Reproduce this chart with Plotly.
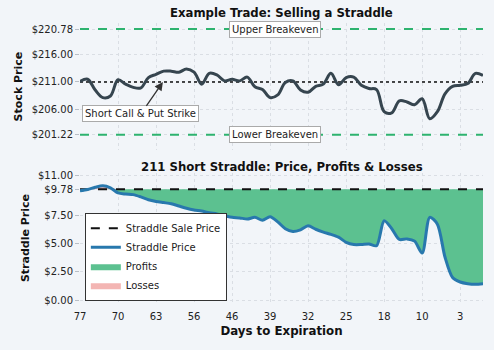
import plotly.graph_objects as go

days_idx = list(range(54))
tick_idx = [0, 5, 10, 15, 20, 25, 30, 35, 40, 45, 50]
tick_days = ["77", "70", "63", "56", "46", "39", "32", "25", "18", "10", "3"]

stock_price = [211.1, 211.5, 209.5, 208.1, 208.4, 211.4, 210.6, 210.0, 209.9, 211.8,
               212.4, 213.0, 213.0, 212.8, 213.4, 212.8, 210.6, 212.6, 212.3, 211.2,
               211.5, 211.2, 211.9, 210.1, 209.6, 208.1, 208.6, 210.9, 211.2, 209.5,
               209.1, 210.2, 210.6, 212.6, 210.5, 211.8, 211.9, 210.4, 209.8, 209.6,
               205.5, 205.3, 207.5, 207.3, 206.8, 207.9, 204.2, 205.5, 208.8, 210.2,
               210.4, 210.7, 212.6, 212.2]

straddle_price = [9.63, 9.75, 9.95, 10.08, 9.9, 9.45, 9.35, 9.3, 9.1, 8.85,
                  8.7, 8.6, 8.5, 8.3, 8.1, 7.95, 7.85, 7.7, 7.6, 7.45,
                  7.3, 7.25, 7.15, 7.3, 7.05, 7.35, 6.9, 6.3, 6.05, 6.2,
                  6.55, 6.25, 6.0, 5.8, 5.55, 5.1, 4.9, 4.9, 4.95, 4.8,
                  7.0, 6.3, 5.35, 5.4, 5.2, 4.15, 7.3, 6.7, 3.8, 2.0,
                  1.6, 1.45, 1.4, 1.45]

strike = 211.0
sale_price = 9.78
upper_be = 220.78
lower_be = 201.22

stock_ticks = [220.78, 216.0, 211.0, 206.0, 201.22]
straddle_ticks = [11.0, 9.78, 7.5, 5.0, 2.5, 0.0]

BG = "#f2f5f9"
FONT = "DejaVu Sans"
GRID = "#dadee4"

fig = go.Figure()

# ---- top panel ----
fig.add_trace(go.Scatter(x=[days_idx[0], days_idx[-1]], y=[upper_be, upper_be], mode="lines",
                         line=dict(color="#2eb36f", width=2, dash="dash"), showlegend=False,
                         xaxis="x", yaxis="y", hoverinfo="skip"))
fig.add_trace(go.Scatter(x=[days_idx[0], days_idx[-1]], y=[lower_be, lower_be], mode="lines",
                         line=dict(color="#2eb36f", width=2, dash="dash"), showlegend=False,
                         xaxis="x", yaxis="y", hoverinfo="skip"))
fig.add_trace(go.Scatter(x=[days_idx[0], days_idx[-1]], y=[strike, strike], mode="lines",
                         line=dict(color="#111111", width=1.6, dash="dot"), showlegend=False,
                         xaxis="x", yaxis="y", hoverinfo="skip"))
fig.add_trace(go.Scatter(x=days_idx, y=stock_price, mode="lines",
                         line=dict(color="#36454f", width=3, shape="spline", smoothing=1),
                         showlegend=False, xaxis="x", yaxis="y"))

# ---- bottom panel ----
profits = [min(p, sale_price) for p in straddle_price]
losses = [max(p, sale_price) for p in straddle_price]
base = [sale_price] * len(days_idx)

fig.add_trace(go.Scatter(x=days_idx, y=base, mode="lines", line=dict(width=0),
                         showlegend=False, xaxis="x2", yaxis="y2", hoverinfo="skip"))
fig.add_trace(go.Scatter(x=days_idx, y=profits, mode="lines", name="Profits",
                         line=dict(width=0, shape="spline", smoothing=0.8), fill="tonexty",
                         fillcolor="#5cc190", xaxis="x2", yaxis="y2", legendrank=3))
fig.add_trace(go.Scatter(x=days_idx, y=base, mode="lines", line=dict(width=0),
                         showlegend=False, xaxis="x2", yaxis="y2", hoverinfo="skip"))
fig.add_trace(go.Scatter(x=days_idx, y=losses, mode="lines", name="Losses",
                         line=dict(width=0, shape="spline", smoothing=0.8), fill="tonexty",
                         fillcolor="#f3b5b3", xaxis="x2", yaxis="y2", legendrank=4))
fig.add_trace(go.Scatter(x=[days_idx[0], days_idx[-1]], y=[sale_price, sale_price], mode="lines",
                         name="Straddle Sale Price", line=dict(color="#111111", width=2, dash="dash"),
                         xaxis="x2", yaxis="y2", legendrank=1))
fig.add_trace(go.Scatter(x=days_idx, y=straddle_price, mode="lines", name="Straddle Price",
                         line=dict(color="#2878ad", width=3, shape="spline", smoothing=0.8),
                         xaxis="x2", yaxis="y2", legendrank=2))

axis_common = dict(showgrid=True, gridcolor=GRID, griddash="dot", gridwidth=1,
                   zeroline=False, showline=False, ticks="outside", ticklen=4,
                   tickcolor="#b8bec6", tickfont=dict(size=10, color="#222", family=FONT))

fig.update_layout(
    width=494, height=350,
    margin=dict(l=80, r=11, t=23, b=47),
    paper_bgcolor=BG, plot_bgcolor=BG,
    font=dict(family=FONT, size=10, color="#222"),
    xaxis=dict(axis_common, domain=[0, 1], anchor="y", range=[0, 53],
               tickvals=tick_idx, ticktext=tick_days, showticklabels=False, ticks=""),
    yaxis=dict(axis_common, domain=[0.546, 1], anchor="x", range=[198.4, 221.9],
               tickvals=stock_ticks, ticktext=["$%.2f" % v for v in stock_ticks],
               title=dict(text="<b>Stock Price</b>", font=dict(size=11, family=FONT, color="#111"),
                          standoff=6)),
    xaxis2=dict(axis_common, domain=[0, 1], anchor="y2", range=[0, 53],
                tickvals=tick_idx, ticktext=tick_days, ticks="", ticklabelstandoff=6,
                title=dict(text="<b>Days to Expiration</b>", font=dict(size=11.8, family=FONT, color="#111"),
                           standoff=5)),
    yaxis2=dict(axis_common, domain=[0, 0.464], anchor="x2", range=[-0.25, 11.2],
                tickvals=straddle_ticks, ticktext=["$%.2f" % v for v in straddle_ticks],
                title=dict(text="<b>Straddle Price</b>", font=dict(size=11, family=FONT, color="#111"),
                           standoff=6)),
    legend=dict(x=0.012, y=0.008, xanchor="left", yanchor="bottom",
                bgcolor="white", bordercolor="#333", borderwidth=1, traceorder="normal",
                font=dict(size=10, family=FONT, color="#222"),
                tracegroupgap=0, itemwidth=30),
    showlegend=True,
)

ann_box = dict(bgcolor="white", bordercolor="#aaaaaa", borderwidth=1, borderpad=2,
               font=dict(size=10, family=FONT, color="#222"), showarrow=False)
fig.add_annotation(x=25.6, y=upper_be, xref="x", yref="y", text="Upper Breakeven", **ann_box)
fig.add_annotation(x=25.6, y=lower_be, xref="x", yref="y", text="Lower Breakeven", **ann_box)
fig.add_annotation(x=10.9, y=strike, xref="x", yref="y", text="Short Call & Put Strike",
                   showarrow=True, ax=-22, ay=32, arrowhead=2, arrowsize=1.3, arrowwidth=1.3,
                   arrowcolor="#333", bgcolor="white", bordercolor="#aaaaaa", borderwidth=1,
                   borderpad=2, font=dict(size=10, family=FONT, color="#222"))

fig.add_annotation(x=0.5, y=1, xref="paper", yref="paper", yanchor="bottom", yshift=1,
                   text="<b>Example Trade: Selling a Straddle</b>", showarrow=False,
                   font=dict(size=11.7, family=FONT, color="#111"))
fig.add_annotation(x=0.5, y=0.464, xref="paper", yref="paper", yanchor="bottom", yshift=-3,
                   text="<b>211 Short Straddle: Price, Profits & Losses</b>", showarrow=False,
                   font=dict(size=11.7, family=FONT, color="#111"))

fig.write_html("out.html")
